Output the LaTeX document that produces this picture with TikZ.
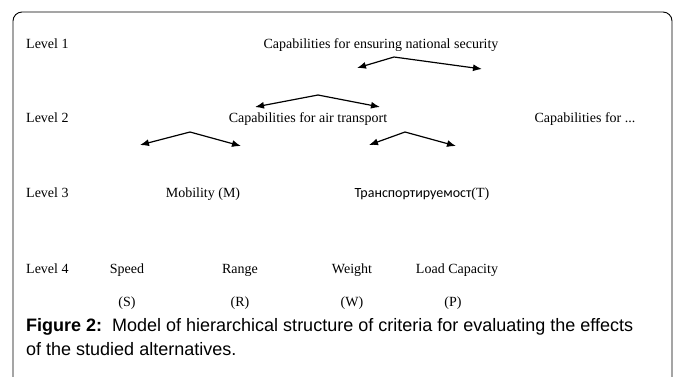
\documentclass[tikz,border=0pt]{standalone}
\usepackage{fontspec}
\setmainfont{Liberation Serif}
\newfontfamily\capfont{Liberation Sans}
\newfontfamily\cyrfont{Carlito}
\usetikzlibrary{arrows.meta}

\begin{document}
\begin{tikzpicture}[x=1pt, y=-1pt,
  txt/.style={anchor=base, inner sep=0, font=\fontsize{14}{16}\selectfont},
  lvl/.style={txt, anchor=base west},
  captxt/.style={anchor=base west, inner sep=0, font=\capfont\fontsize{18}{20}\selectfont},
  branch/.style={{Latex[length=9pt,width=7pt]}-{Latex[length=9pt,width=7pt]}, line width=1.2pt}]
\useasboundingbox (0,0) rectangle (677,376);
\draw[line width=0.9pt, rounded corners=9pt] (13,12) rectangle (672,388);

\node[lvl] (l1) at (26,48) {Level 1};
\node[lvl] (l2) at (26,122) {Level 2};
\node[lvl] (l3) at (26,197) {Level 3};
\node[lvl] (l4) at (26,273) {Level 4};

\node[txt] (sec) at (381,48) {Capabilities for ensuring national security};
\node[txt] (air) at (308,122) {Capabilities for air transport};
\node[txt] (other) at (585,122) {Capabilities for ...};
\node[txt] (mob) at (203,197) {Mobility (M)};
\node[txt] (trans) at (422,197) {{\cyrfont Транспортируемост}(T)};

\node[txt] (spd) at (127,273) {Speed};
\node[txt] (rng) at (240,273) {Range};
\node[txt] (wgt) at (352,273) {Weight};
\node[txt] (load) at (457,273) {Load Capacity};
\node[txt] (s) at (127,306) {(S)};
\node[txt] (r) at (240,306) {(R)};
\node[txt] (w) at (352,306) {(W)};
\node[txt] (p) at (453,306) {(P)};

\coordinate (b1l) at (357,68);
\coordinate (b1a) at (394,57);
\coordinate (b1r) at (482,69);
\coordinate (b2l) at (255,107);
\coordinate (b2a) at (318,95);
\coordinate (b2r) at (380,107);
\coordinate (b3l) at (140,145);
\coordinate (b3a) at (190,132);
\coordinate (b3r) at (241,146);
\coordinate (b4l) at (369,145);
\coordinate (b4a) at (405,132);
\coordinate (b4r) at (456,146);

\draw[branch] (b1l) -- (b1a) -- (b1r);
\draw[branch] (b2l) -- (b2a) -- (b2r);
\draw[branch] (b3l) -- (b3a) -- (b3r);
\draw[branch] (b4l) -- (b4a) -- (b4r);

\node[captxt] (cap1) at (26,331) {\textbf{Figure 2:}\ \ Model of hierarchical structure of criteria for evaluating the effects};
\node[captxt] (cap2) at (26,355) {of the studied alternatives.};
\end{tikzpicture}
\end{document}
